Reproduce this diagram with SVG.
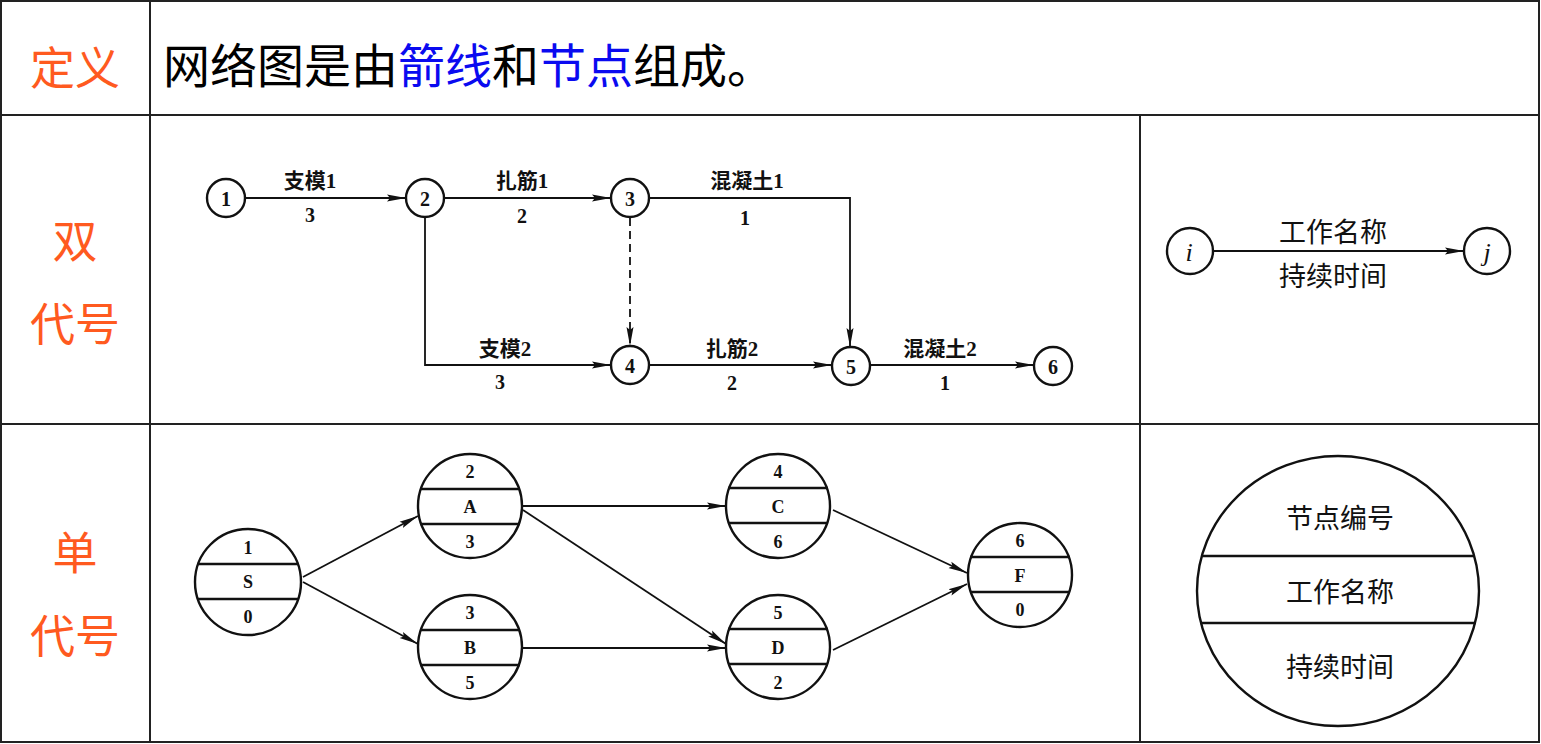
<svg xmlns="http://www.w3.org/2000/svg" width="1541" height="744" viewBox="0 0 1541 744">
<defs>
<marker id="ah" markerUnits="userSpaceOnUse" markerWidth="20" markerHeight="10" refX="19" refY="5" orient="auto">
<path d="M0,1.5 L19,5 L0,8.5 L3,5 z" fill="#111"/>
</marker>
<style>
.grid{stroke:#222;stroke-width:2;fill:none}
.side{font-family:"Noto Sans CJK SC","Noto Sans",sans-serif;font-size:45px;fill:#FF5A1F;text-anchor:middle;dominant-baseline:central}
.main{font-family:"Noto Sans CJK SC","Noto Sans",sans-serif;font-size:47px;fill:#000}
.blue{fill:#0A0AF0}
.nd{fill:#fff;stroke:#111;stroke-width:2.4}
.sep{stroke:#111;stroke-width:2.4}
.num{font-family:"Liberation Serif","Noto Sans CJK SC",serif;font-size:20px;font-weight:bold;fill:#111;text-anchor:middle;dominant-baseline:central}
.lbl{font-family:"Liberation Serif","Noto Sans CJK SC",serif;font-size:21px;font-weight:bold;fill:#111;text-anchor:middle;dominant-baseline:central}
.sn{font-family:"Liberation Serif",serif;font-size:18px;font-weight:bold;fill:#111;text-anchor:middle;dominant-baseline:central}
.leg{font-family:"Noto Sans CJK SC","Noto Sans",sans-serif;font-size:27px;fill:#111;text-anchor:middle;dominant-baseline:central}
.ital{font-family:"Liberation Serif",serif;font-style:italic;font-size:26px;fill:#111;text-anchor:middle;dominant-baseline:central}
.edge{stroke:#111;stroke-width:1.8;fill:none}
.arr{marker-end:url(#ah)}
.dash{stroke-dasharray:8,5}
</style>
</defs>
<rect width="1541" height="744" fill="#fff"/>

<g id="table">
<rect class="grid" x="1" y="1" width="1538" height="741"/>
<line class="grid" x1="150" y1="1" x2="150" y2="742"/>
<line class="grid" x1="1140" y1="115" x2="1140" y2="742"/>
<line class="grid" x1="1" y1="115" x2="1539" y2="115"/>
<line class="grid" x1="1" y1="424" x2="1539" y2="424"/>
</g>

<g id="row-labels">
<text class="side" x="75" y="65">定义</text>
<text class="side" x="75" y="238">双</text>
<text class="side" x="75" y="321">代号</text>
<text class="side" x="75" y="550">单</text>
<text class="side" x="75" y="633">代号</text>
</g>

<g id="definition">
<text class="main" x="163" y="83">网络图是由<tspan class="blue">箭线</tspan>和<tspan class="blue">节点</tspan>组成。</text>
</g>

<g id="aoa-connectors">
<line class="edge arr" x1="245" y1="198" x2="406" y2="198"/>
<line class="edge arr" x1="444" y1="198" x2="611" y2="198"/>
<polyline class="edge arr" points="649,198 850,198 850,347"/>
<polyline class="edge arr" points="425,218 425,365 611,365"/>
<line class="edge arr dash" x1="630" y1="218" x2="630" y2="346"/>
<line class="edge arr" x1="649" y1="365" x2="832" y2="365"/>
<line class="edge arr" x1="870" y1="365" x2="1034" y2="365"/>
</g>
<g id="aoa-labels">
<text class="lbl" x="310" y="181">支模1</text><text class="num" x="310" y="215">3</text>
<text class="lbl" x="522" y="181">扎筋1</text><text class="num" x="522" y="216">2</text>
<text class="lbl" x="747" y="181">混凝土1</text><text class="num" x="745" y="218">1</text>
<text class="lbl" x="505" y="349">支模2</text><text class="num" x="500" y="382">3</text>
<text class="lbl" x="732" y="349">扎筋2</text><text class="num" x="732" y="383">2</text>
<text class="lbl" x="940" y="349">混凝土2</text><text class="num" x="945" y="383">1</text>
</g>
<g id="n1"><circle class="nd" cx="226" cy="198" r="19"/><text class="num" x="226" y="199">1</text></g>
<g id="n2"><circle class="nd" cx="425" cy="198" r="19"/><text class="num" x="425" y="199">2</text></g>
<g id="n3"><circle class="nd" cx="630" cy="198" r="19"/><text class="num" x="630" y="199">3</text></g>
<g id="n4"><circle class="nd" cx="630" cy="365" r="19"/><text class="num" x="630" y="366">4</text></g>
<g id="n5"><circle class="nd" cx="851" cy="366" r="19"/><text class="num" x="851" y="367">5</text></g>
<g id="n6"><circle class="nd" cx="1053" cy="366" r="19"/><text class="num" x="1053" y="367">6</text></g>

<g id="aoa-legend">
<line class="edge arr" x1="1214" y1="251" x2="1464" y2="251"/>
<text class="leg" x="1333" y="230">工作名称</text>
<text class="leg" x="1333" y="274">持续时间</text>
<g id="ni"><circle class="nd" cx="1190" cy="251" r="23"/><text class="ital" x="1189" y="252">i</text></g>
<g id="nj"><circle class="nd" cx="1487" cy="251" r="23"/><text class="ital" x="1487" y="252">j</text></g>
</g>

<g id="aon-connectors">
<line class="edge arr" x1="303" y1="577" x2="418" y2="516"/>
<line class="edge arr" x1="303" y1="582" x2="418" y2="644"/>
<line class="edge arr" x1="523" y1="506" x2="726" y2="506"/>
<line class="edge arr" x1="523" y1="510" x2="726" y2="644"/>
<line class="edge arr" x1="523" y1="648" x2="726" y2="648"/>
<line class="edge arr" x1="833" y1="510" x2="967" y2="573"/>
<line class="edge arr" x1="833" y1="650" x2="967" y2="584"/>
</g>

<g id="nS"><circle class="nd" cx="248" cy="582" r="53"/><line class="sep" x1="197" y1="564" x2="299" y2="564"/><line class="sep" x1="197" y1="599" x2="299" y2="599"/><text class="sn" x="248" y="548">1</text><text class="sn" x="248" y="582">S</text><text class="sn" x="248" y="617">0</text></g>
<g id="nA"><circle class="nd" cx="470" cy="506" r="52"/><line class="sep" x1="420" y1="489" x2="520" y2="489"/><line class="sep" x1="420" y1="524" x2="520" y2="524"/><text class="sn" x="470" y="472">2</text><text class="sn" x="470" y="507">A</text><text class="sn" x="470" y="542">3</text></g>
<g id="nB"><circle class="nd" cx="470" cy="647" r="52"/><line class="sep" x1="420" y1="630" x2="520" y2="630"/><line class="sep" x1="420" y1="665" x2="520" y2="665"/><text class="sn" x="470" y="613">3</text><text class="sn" x="470" y="648">B</text><text class="sn" x="470" y="683">5</text></g>
<g id="nC"><circle class="nd" cx="778" cy="506" r="52"/><line class="sep" x1="728" y1="488" x2="828" y2="488"/><line class="sep" x1="728" y1="523" x2="828" y2="523"/><text class="sn" x="778" y="472">4</text><text class="sn" x="778" y="507">C</text><text class="sn" x="778" y="542">6</text></g>
<g id="nD"><circle class="nd" cx="778" cy="647" r="52"/><line class="sep" x1="728" y1="629" x2="828" y2="629"/><line class="sep" x1="728" y1="664" x2="828" y2="664"/><text class="sn" x="778" y="613">5</text><text class="sn" x="778" y="648">D</text><text class="sn" x="778" y="683">2</text></g>
<g id="nF"><circle class="nd" cx="1020" cy="575" r="52"/><line class="sep" x1="970" y1="557" x2="1070" y2="557"/><line class="sep" x1="970" y1="592" x2="1070" y2="592"/><text class="sn" x="1020" y="541">6</text><text class="sn" x="1020" y="576">F</text><text class="sn" x="1020" y="610">0</text></g>

<g id="aon-legend">
<ellipse class="nd" cx="1338" cy="591" rx="141" ry="135"/>
<line class="sep" x1="1202" y1="556" x2="1474" y2="556"/>
<line class="sep" x1="1200" y1="623" x2="1476" y2="623"/>
<text class="leg" x="1340" y="516">节点编号</text>
<text class="leg" x="1340" y="590">工作名称</text>
<text class="leg" x="1340" y="665">持续时间</text>
</g>
</svg>
